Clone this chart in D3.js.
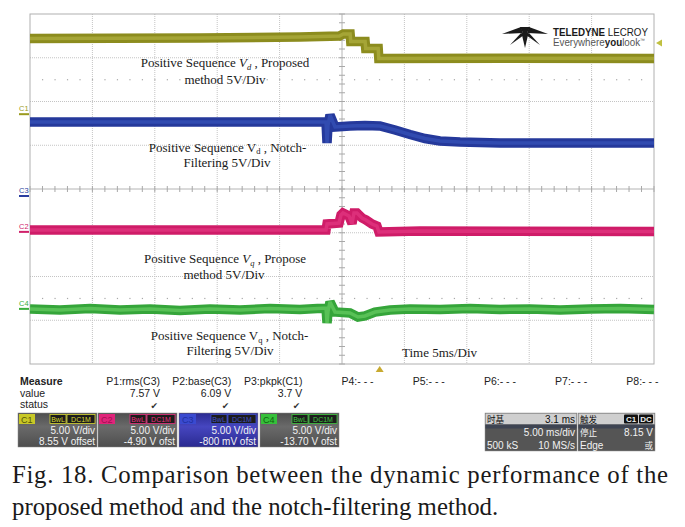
<!DOCTYPE html>
<html><head><meta charset="utf-8">
<script src="https://cdn.jsdelivr.net/npm/d3@7"></script>
<style>body{margin:0;background:#fff}svg{display:block}</style>
</head><body><svg id="c" width="685" height="527"></svg>
<script>
// ---------------- DATA ----------------
const timeDomain = [-28.1, 21.9];     // ms (5 ms/div, 10 div)
const divDomain = [-4, 4];            // vertical divisions
const vPerDiv = 5;                    // V/div for all channels
const chanNames = ["C1", "C2", "C3", "C4"];
const chanOffsets = [8.55, -4.90, -0.80, -13.70];   // V offset
const trigLevel = 8.15;               // V on C1

// C1 (yellow): positive sequence Vd, proposed method
const c1Time = [-28.1, -14.5, -6.5, -3.3, -3.0, -2.45, -2.4, -1.25, -1.2, -0.2, -0.15, 10, 21.9];
const c1Volt = [8.65, 8.70, 8.82, 8.94, 9.16, 9.16, 8.31, 8.31, 7.51, 7.51, 6.36, 6.40, 6.36];
// C3 (blue): positive sequence Vd, notch filtering
const c3Time = [-28.1, -4.38, -4.30, -4.22, -4.06, -3.66, -2.46, -1.26, -0.06, 1.15, 2.35, 3.55, 4.75, 6.36, 9.56, 21.9];
const c3Volt = [8.46, 8.46, 6.06, 8.11, 9.26, 7.89, 8.00, 8.06, 8.00, 7.54, 7.03, 6.57, 6.29, 6.17, 6.06, 6.06];
// C2 (pink): positive sequence Vq, proposed method
const c2Time = [-28.1, -4.38, -4.30, -3.34, -3.18, -3.02, -2.54, -2.30, -2.14, -1.90, -1.50, -1.18, -0.70, -0.30, -0.14, 3.15, 21.9];
const c2Volt = [0.21, 0.21, 0.90, 1.01, 1.93, 2.16, 1.81, 0.95, 2.16, 2.16, 1.59, 1.36, 0.90, 0.67, -0.01, 0.10, 0.04];
// C4 (green): positive sequence Vq, notch filtering
const c4Time = [-28.1, -25.7, -23.29, -20.89, -18.48, -16.08, -13.68, -11.27, -8.87, -6.47, -4.38, -4.30, -4.22, -4.06, -3.66, -2.46, -1.82, -1.26, -0.46, 0.75, 2.35, 4.75, 7.16, 9.56, 11.96, 14.37, 16.77, 19.18, 21.9];
const c4Volt = [-0.01, -0.13, 0.04, -0.13, -0.01, -0.19, -0.01, -0.13, 0.04, -0.07, 0.10, -1.61, -0.30, 0.79, -0.36, -0.47, -0.93, -0.81, -0.36, -0.13, -0.01, -0.07, 0.04, -0.07, -0.01, -0.13, -0.01, 0.04, -0.07];

// Measurements
const measureNames = ["P1:rms(C3)", "P2:base(C3)", "P3:pkpk(C1)", "P4:- - -", "P5:- - -", "P6:- - -", "P7:- - -", "P8:- - -"];
const measureValues = ["7.57 V", "6.09 V", "3.7 V"];
const chanVdivText = ["5.00 V/div", "5.00 V/div", "5.00 V/div", "5.00 V/div"];
const chanOffsetText = ["8.55 V offset", "-4.90 V ofst", "-800 mV ofst", "-13.70 V ofst"];
const boxOrder = ["C1", "C2", "C3", "C4"];

// ---------------- DRAW ----------------
const svg = d3.select("#c");
const L = 30, R = 654, T = 14, B = 364;
const x = d3.scaleLinear().domain(timeDomain).range([L, R]);
const y = d3.scaleLinear().domain(divDomain).range([B, T]);
const toDiv = (v, ch) => (v + chanOffsets[chanNames.indexOf(ch)]) / vPerDiv;

const grid = svg.append("g");
const xDivs = d3.range(0, 11).map(i => timeDomain[0] + i * 5);
const yDivs = d3.range(-4, 5);
xDivs.slice(1, 10).forEach((t, i) => {
  if (i === 4) return;
  grid.append("line").attr("x1", x(t)).attr("x2", x(t)).attr("y1", T).attr("y2", B)
    .attr("stroke", "#c4c4c4").attr("stroke-width", 1).attr("stroke-dasharray", "1,1");
});
yDivs.slice(1, 8).forEach(d => {
  if (d === 0) return;
  grid.append("line").attr("x1", L).attr("x2", R).attr("y1", y(d)).attr("y2", y(d))
    .attr("stroke", "#c4c4c4").attr("stroke-width", 1).attr("stroke-dasharray", "1,1");
});
[2.5, -2.5].forEach(d => {
  d3.range(timeDomain[0] + 1, timeDomain[1], 1).forEach(t => {
    grid.append("rect").attr("x", x(t) - 0.5).attr("y", y(d) - 0.5).attr("width", 1.2).attr("height", 1.2).attr("fill", "#a8a8a8");
  });
});
const cx = x(timeDomain[0] + 25), cy = y(0);
grid.append("line").attr("x1", L).attr("x2", R).attr("y1", cy).attr("y2", cy).attr("stroke", "#b4b4b4");
grid.append("line").attr("x1", cx).attr("x2", cx).attr("y1", T).attr("y2", B).attr("stroke", "#b4b4b4");
d3.range(timeDomain[0], timeDomain[1] + 0.01, 1).forEach(t => {
  grid.append("line").attr("x1", x(t)).attr("x2", x(t)).attr("y1", cy - 3).attr("y2", cy + 3).attr("stroke", "#a8a8a8");
});
d3.range(-4, 4.01, 0.2).forEach(d => {
  grid.append("line").attr("x1", cx - 3).attr("x2", cx + 3).attr("y1", y(d)).attr("y2", y(d)).attr("stroke", "#a8a8a8");
});
grid.append("rect").attr("x", L).attr("y", T).attr("width", R - L).attr("height", B - T)
  .attr("fill", "none").attr("stroke", "#b0b0b0").attr("stroke-width", 1);

// Logo
const logo = svg.append("g").attr("fill", "#1a1a1a");
logo.append("path").attr("d", "M502,34 L521,27 L523,33 Z");
logo.append("path").attr("d", "M548,34 L529,27 L527,33 Z");
logo.append("path").attr("d", "M521,33 L510,45 L524,35 Z");
logo.append("path").attr("d", "M529,33 L540,45 L526,35 Z");
logo.append("path").attr("d", "M521.5,33 L528.5,33 L525,48 Z");
logo.append("path").attr("d", "M520,27 L530,27 L527,33 L523,33 Z");
const lt = svg.append("text").attr("x", 553).attr("y", 35.5).attr("font-family", "Liberation Sans, Arial").attr("font-size", 10.5)
  .attr("fill", "#1a1a1a").attr("textLength", 95).attr("lengthAdjust", "spacingAndGlyphs");
lt.append("tspan").attr("font-weight", "bold").text("TELEDYNE");
lt.append("tspan").text(" LECROY");
const lt2 = svg.append("text").attr("x", 553).attr("y", 45.5).attr("font-family", "Liberation Sans, Arial").attr("font-size", 10)
  .attr("fill", "#555").attr("textLength", 92).attr("lengthAdjust", "spacingAndGlyphs");
lt2.append("tspan").text("Everywhere");
lt2.append("tspan").attr("font-weight", "bold").attr("fill", "#222").text("you");
lt2.append("tspan").text("look");
lt2.append("tspan").attr("font-size", 5).attr("dy", -4).text("™");

// Traces
const traces = [
  {ch: "C1", t: c1Time, v: c1Volt, outer: "#8c8c1e", inner: "#abab3c"},
  {ch: "C3", t: c3Time, v: c3Volt, outer: "#25399b", inner: "#3550b5"},
  {ch: "C2", t: c2Time, v: c2Volt, outer: "#cf1c68", inner: "#e0357e"},
  {ch: "C4", t: c4Time, v: c4Volt, outer: "#35a53a", inner: "#62c85e"}
];
traces.forEach(tr => {
  const pts = tr.t.map((t, i) => [x(t), y(toDiv(tr.v[i], tr.ch))]);
  const line = d3.line();
  svg.append("path").attr("d", line(pts)).attr("fill", "none").attr("stroke", tr.outer)
    .attr("stroke-width", 9.5).attr("stroke-linejoin", "miter").attr("stroke-miterlimit", 2);
  svg.append("path").attr("d", line(pts)).attr("fill", "none").attr("stroke", tr.inner)
    .attr("stroke-width", 3.5).attr("stroke-linejoin", "miter").attr("stroke-miterlimit", 2).attr("opacity", 0.8);
});

// Channel ground markers
const markerColors = {C1: "#9a9a1e", C2: "#d0206a", C3: "#2a3ea0", C4: "#38ae3c"};
chanNames.forEach((ch, i) => {
  const gy = y(chanOffsets[i] / vPerDiv);
  svg.append("rect").attr("x", 19).attr("y", gy - 1).attr("width", 10).attr("height", 2).attr("fill", markerColors[ch]);
  svg.append("text").attr("x", 19).attr("y", gy - 3).attr("font-family", "Liberation Sans, Arial").attr("font-size", 7.5)
    .attr("fill", markerColors[ch]).text(ch);
});
const ty = y(toDiv(trigLevel, "C1"));
svg.append("path").attr("d", `M656,${ty} L662,${ty - 3.5} L662,${ty + 3.5} Z`).attr("fill", "#c0c040");
const tx = x(0);
svg.append("path").attr("d", `M${tx - 1},${B + 2} L${tx + 3},${B + 8} L${tx - 5},${B + 8} Z`).attr("fill", "#c8aa30");

// Annotations
const ann = svg.append("g").attr("font-family", "Liberation Serif, Times New Roman, serif").attr("font-size", 13).attr("fill", "#1a1a1a").attr("text-anchor", "middle");
function seqLabel(cxp, yb, sub, italic, tail) {
  const t = ann.append("text").attr("x", cxp).attr("y", yb);
  t.append("tspan").text("Positive Sequence ");
  t.append("tspan").attr("font-style", italic ? "italic" : "normal").text("V");
  t.append("tspan").attr("font-style", italic ? "italic" : "normal").attr("font-size", 8.5).attr("dy", 2.5).text(sub);
  t.append("tspan").attr("dy", -2.5).text(" , " + tail);
}
seqLabel(225, 67, "d", true, "Proposed");
ann.append("text").attr("x", 225).attr("y", 83.5).text("method 5V/Div");
seqLabel(227.5, 151.5, "d", false, "Notch-");
ann.append("text").attr("x", 227).attr("y", 167).text("Filtering 5V/Div");
seqLabel(225, 263, "q", true, "Propose");
ann.append("text").attr("x", 224).attr("y", 278.5).text("method 5V/Div");
seqLabel(229.5, 340, "q", false, "Notch-");
ann.append("text").attr("x", 230).attr("y", 355).text("Filtering 5V/Div");
ann.append("text").attr("x", 439.5).attr("y", 357).text("Time 5ms/Div");

// Measure row
const m = svg.append("g").attr("font-family", "Liberation Sans, Arial, sans-serif").attr("font-size", 10.5).attr("fill", "#222");
m.append("text").attr("x", 20).attr("y", 385).attr("font-weight", "bold").text("Measure");
m.append("text").attr("x", 20).attr("y", 396.5).text("value");
m.append("text").attr("x", 20).attr("y", 408).text("status");
measureNames.forEach((n, i) => {
  const rx = 160 + i * 71.2;
  m.append("text").attr("x", rx).attr("y", 385).attr("text-anchor", "end").text(n);
  if (i < measureValues.length) {
    m.append("text").attr("x", rx).attr("y", 396.5).attr("text-anchor", "end").text(measureValues[i]);
    m.append("text").attr("x", rx - 2).attr("y", 408.5).attr("text-anchor", "end").attr("font-family", "DejaVu Sans").attr("font-size", 9).attr("fill", "#333").text("✔");
  }
});

// Channel boxes
const boxX = [18, 98, 179, 260];
const boxW = 80, boxY = 413, boxH = 34;
const boxStyles = {
  C1: {badge: "#c8c826", badgeText: "#55550a", acc: "#d8d830", bg1: "#6a6a6a", bg2: "#4e4e4e"},
  C2: {badge: "#e0247a", badgeText: "#a01050", acc: "#e8307f", bg1: "#6a6a6a", bg2: "#4e4e4e"},
  C3: {badge: "#3a4ad0", badgeText: "#2030a0", acc: "#4050c8", bg1: "#4646c0", bg2: "#2a2a90"},
  C4: {badge: "#36c03a", badgeText: "#106010", acc: "#40c840", bg1: "#6a6a6a", bg2: "#4e4e4e"}
};
const defs = svg.append("defs");
boxOrder.forEach((ch, i) => {
  const st = boxStyles[ch];
  const gid = "bg" + ch;
  const lg = defs.append("linearGradient").attr("id", gid).attr("x1", 0).attr("y1", 0).attr("x2", 0).attr("y2", 1);
  lg.append("stop").attr("offset", "0%").attr("stop-color", st.bg2);
  lg.append("stop").attr("offset", "40%").attr("stop-color", st.bg1);
  lg.append("stop").attr("offset", "100%").attr("stop-color", st.bg2);
  const g = svg.append("g").attr("transform", `translate(${boxX[i]},${boxY})`).attr("font-family", "Liberation Sans, Arial, sans-serif");
  g.append("rect").attr("width", boxW - 1).attr("height", boxH).attr("fill", `url(#${gid})`).attr("stroke", "#888").attr("stroke-width", 0.5);
  g.append("rect").attr("x", 1).attr("y", 1).attr("width", 16).attr("height", 10).attr("fill", st.badge);
  g.append("text").attr("x", 3).attr("y", 9.5).attr("font-size", 9).attr("fill", st.badgeText).text(ch);
  g.append("rect").attr("x", 32).attr("y", 1.5).attr("width", 16).attr("height", 9).attr("fill", "#1c1c1c").attr("stroke", st.acc).attr("stroke-width", 0.8);
  g.append("text").attr("x", 40).attr("y", 8.8).attr("font-size", 7).attr("text-anchor", "middle").attr("fill", st.acc).text("BwL");
  g.append("rect").attr("x", 49).attr("y", 1.5).attr("width", 28).attr("height", 9).attr("fill", "#1c1c1c").attr("stroke", st.acc).attr("stroke-width", 0.8);
  g.append("text").attr("x", 63).attr("y", 8.8).attr("font-size", 7).attr("text-anchor", "middle").attr("fill", st.acc).text("DC1M");
  g.append("text").attr("x", boxW - 3).attr("y", 21).attr("font-size", 10).attr("text-anchor", "end").attr("fill", "#f2f2f2").text(chanVdivText[i]);
  g.append("text").attr("x", boxW - 3).attr("y", 32).attr("font-size", 10).attr("text-anchor", "end").attr("fill", "#f2f2f2").text(chanOffsetText[i]);
});

// Timebase / trigger boxes
function infoBox(x0, w, rows, badges) {
  const g = svg.append("g").attr("transform", `translate(${x0},413)`).attr("font-size", 10);
  g.append("rect").attr("width", w).attr("height", 38).attr("fill", "#555").attr("stroke", "#999").attr("stroke-width", 0.5);
  g.append("rect").attr("x", 0.5).attr("y", 0.5).attr("width", w - 1).attr("height", 11).attr("fill", "#cfcfcf");
  g.append("rect").attr("x", 0.5).attr("y", 11.5).attr("width", w - 1).attr("height", 4).attr("fill", "#3e4452");
  const ys = [10, 23, 35.5];
  rows.forEach((r, i) => {
    const col = i === 0 ? "#111" : "#f2f2f2";
    const isCJK = !/[A-Za-z0-9]/.test(r[0]);
    if (r[0]) g.append("text").attr("x", 2).attr("y", ys[i]).attr("fill", col)
      .attr("font-family", isCJK ? "'Noto Sans CJK SC', sans-serif" : "Liberation Sans, Arial, sans-serif")
      .attr("font-size", isCJK ? 8.6 : 10).text(r[0]);
    if (r[1]) {
      const isCJK2 = !/[A-Za-z0-9]/.test(r[1]);
      g.append("text").attr("x", w - 2).attr("y", ys[i]).attr("text-anchor", "end").attr("fill", col)
        .attr("font-family", isCJK2 ? "'Noto Sans CJK SC', sans-serif" : "Liberation Sans, Arial, sans-serif")
        .attr("font-size", isCJK2 ? 8.6 : 10).text(r[1]);
    }
  });
  (badges || []).forEach(b => {
    g.append("rect").attr("x", b[0]).attr("y", 1.5).attr("width", b[1]).attr("height", 9).attr("fill", "#111").attr("rx", 1);
    g.append("text").attr("x", b[0] + b[1] / 2).attr("y", 9.3).attr("text-anchor", "middle").attr("font-family", "Liberation Sans, Arial").attr("font-size", 8).attr("font-weight", "bold").attr("fill", "#eee").text(b[2]);
  });
}
infoBox(485, 92, [["时基", "3.1 ms"], ["", "5.00 ms/div"], ["500 kS", "10 MS/s"]]);
infoBox(578, 77, [["触发", ""], ["停止", "8.15 V"], ["Edge", "或"]], [[46, 14, "C1"], [61, 14, "DC"]]);

// Caption
const cap = svg.append("g").attr("font-family", "Liberation Serif, Times New Roman, serif").attr("font-size", 24.8).attr("fill", "#1a1a1a");
cap.append("text").attr("x", 12).attr("y", 483).attr("textLength", 656).attr("lengthAdjust", "spacing")
  .text("Fig. 18. Comparison between the dynamic performance of the");
cap.append("text").attr("x", 12).attr("y", 515).text("proposed method and the notch-filtering method.");
</script></body></html>
